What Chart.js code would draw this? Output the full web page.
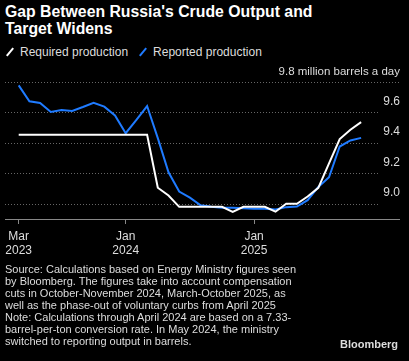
<!DOCTYPE html>
<html>
<head>
  <title>Gap Between Russia's Crude Output and Target Widens</title>
  <script src="https://cdn.jsdelivr.net/npm/chart.js"></script>
  <style>
    html, body { margin: 0; padding: 0; background: #000; }
    body { width: 409px; height: 361px; position: relative; overflow: hidden; font-family: "Liberation Sans", Arial, sans-serif; color: #fff; }
    #title { position: absolute; left: 5px; top: 3px; font-weight: bold; font-size: 15.8px; line-height: 17px; }
    #legend { position: absolute; left: 5px; top: 45px; font-size: 12px; color: #ddd; white-space: nowrap; }
    #legend span.ic { display: inline-block; width: 10px; height: 2px; transform: rotate(-50deg); vertical-align: middle; margin-right: 5px; position: relative; top: -1px; }
    #note { position: absolute; left: 5px; top: 263px; font-size: 11px; line-height: 12px; color: #ddd; white-space: nowrap; }
    #logo { position: absolute; right: 11px; top: 338px; font-size: 11px; font-weight: bold; color: #ddd; }
    canvas { position: absolute; left: 0; top: 0; }
  </style>
</head>
<body>
  <div id="title">Gap Between Russia's Crude Output and<br>Target Widens</div>
  <div id="legend"><span class="ic" style="background:#fff"></span>Required production&nbsp;&nbsp;&nbsp;<span class="ic" style="background:#1f7bff"></span>Reported production</div>
  <canvas id="myChart" width="409" height="361"></canvas>
  <div id="note">Source: Calculations based on Energy Ministry figures seen<br>by Bloomberg. The figures take into account compensation<br>cuts in October-November 2024, March-October 2025, as<br>well as the phase-out of voluntary curbs from April 2025<br>Note: Calculations through April 2024 are based on a 7.33-<br>barrel-per-ton conversion rate. In May 2024, the ministry<br>switched to reporting output in barrels.</div>
  <div id="logo">Bloomberg</div>
  <script>
    // monthly points, Mar 2023 .. Nov 2025 (index 0 = Mar 2023)
    var required = [9.453, 9.453, 9.453, 9.453, 9.453, 9.453, 9.453, 9.453, 9.453, 9.453, 9.453, 9.453, 9.453,
      9.105, 9.054, 8.98, 8.98, 8.98, 8.98, 8.98, 8.947, 8.98,
      8.98, 8.98, 8.948, 9.0, 9.0, 9.048, 9.105, 9.265, 9.425, 9.486, 9.536];
    var reported = [9.778, 9.673, 9.662, 9.603, 9.616, 9.61, 9.636, 9.664, 9.638, 9.58, 9.464, 9.551, 9.642,
      9.431, 9.207, 9.08, 9.04, 8.99, 8.98, 8.974, 8.974, 8.971,
      8.967, 8.967, 8.963, 8.978, 8.982, 9.024, 9.111, 9.174, 9.376, 9.416, 9.433];

    var xTickPos = [0, 10, 22];
    var xTickLabels = [['Mar', '2023'], ['Jan', '2024'], ['Jan', '2025']];
    var yTicks = [9.0, 9.2, 9.4, 9.6];
    var yTop = 9.8;
    var unitLabel = '9.8 million barrels a day';

    function pts(arr) {
      return arr.map(function (v, i) { return { x: i, y: v }; });
    }

    // dotted grid + right-side labels sitting above the lines
    var gridPlugin = {
      id: 'bbgGrid',
      beforeDatasetsDraw: function (chart) {
        var c = chart.ctx, y = chart.scales.y, a = chart.chartArea;
        c.save();
        c.strokeStyle = '#666';
        c.lineWidth = 1;
        c.setLineDash([1, 2]);
        yTicks.forEach(function (v) {
          var py = Math.round(y.getPixelForValue(v)) + 0.5;
          c.beginPath(); c.moveTo(a.left, py); c.lineTo(378, py); c.stroke();
        });
        var pt = Math.round(y.getPixelForValue(yTop)) + 0.5;
        c.beginPath(); c.moveTo(a.left, pt); c.lineTo(400, pt); c.stroke();
        c.setLineDash([]);
        c.fillStyle = '#ddd';
        c.font = '12px "Liberation Sans", Arial, sans-serif';
        c.textAlign = 'right';
        c.textBaseline = 'middle';
        yTicks.forEach(function (v) {
          c.fillText(v.toFixed(1), 400, y.getPixelForValue(v) - 11);
        });
        c.font = '11.5px "Liberation Sans", Arial, sans-serif';
        c.fillText(unitLabel, 400, y.getPixelForValue(yTop) - 10);
        c.restore();
      }
    };

    var ctx = document.getElementById('myChart').getContext('2d');
    var myChart = new Chart(ctx, {
      type: 'line',
      data: {
        datasets: [
          { label: 'Required production', data: pts(required), borderColor: '#ffffff', borderWidth: 2, pointRadius: 0, tension: 0 },
          { label: 'Reported production', data: pts(reported), borderColor: '#1f7bff', borderWidth: 2, pointRadius: 0, tension: 0 }
        ]
      },
      options: {
        responsive: false,
        animation: false,
        layout: { padding: { left: 5, right: 10, top: 82, bottom: 102 } },
        plugins: { legend: { display: false }, tooltip: { enabled: false } },
        scales: {
          x: {
            type: 'linear',
            min: -1.28,
            max: 35.54,
            afterBuildTicks: function (scale) {
              scale.ticks = xTickPos.map(function (v) { return { value: v }; });
            },
            afterFit: function (scale) { scale.height = 40; },
            grid: { display: true, drawOnChartArea: false, drawTicks: true, tickLength: 5, color: '#888' },
            border: { display: true, color: '#888', width: 1 },
            ticks: {
              color: '#ddd',
              font: { size: 12, family: '"Liberation Sans", Arial, sans-serif', lineHeight: 1.2 },
              padding: 5,
              maxRotation: 0,
              autoSkip: false,
              callback: function (v, i) { return xTickLabels[i]; }
            }
          },
          y: {
            display: false,
            min: 8.9,
            max: 9.8
          }
        }
      },
      plugins: [gridPlugin]
    });
  </script>
</body>
</html>
